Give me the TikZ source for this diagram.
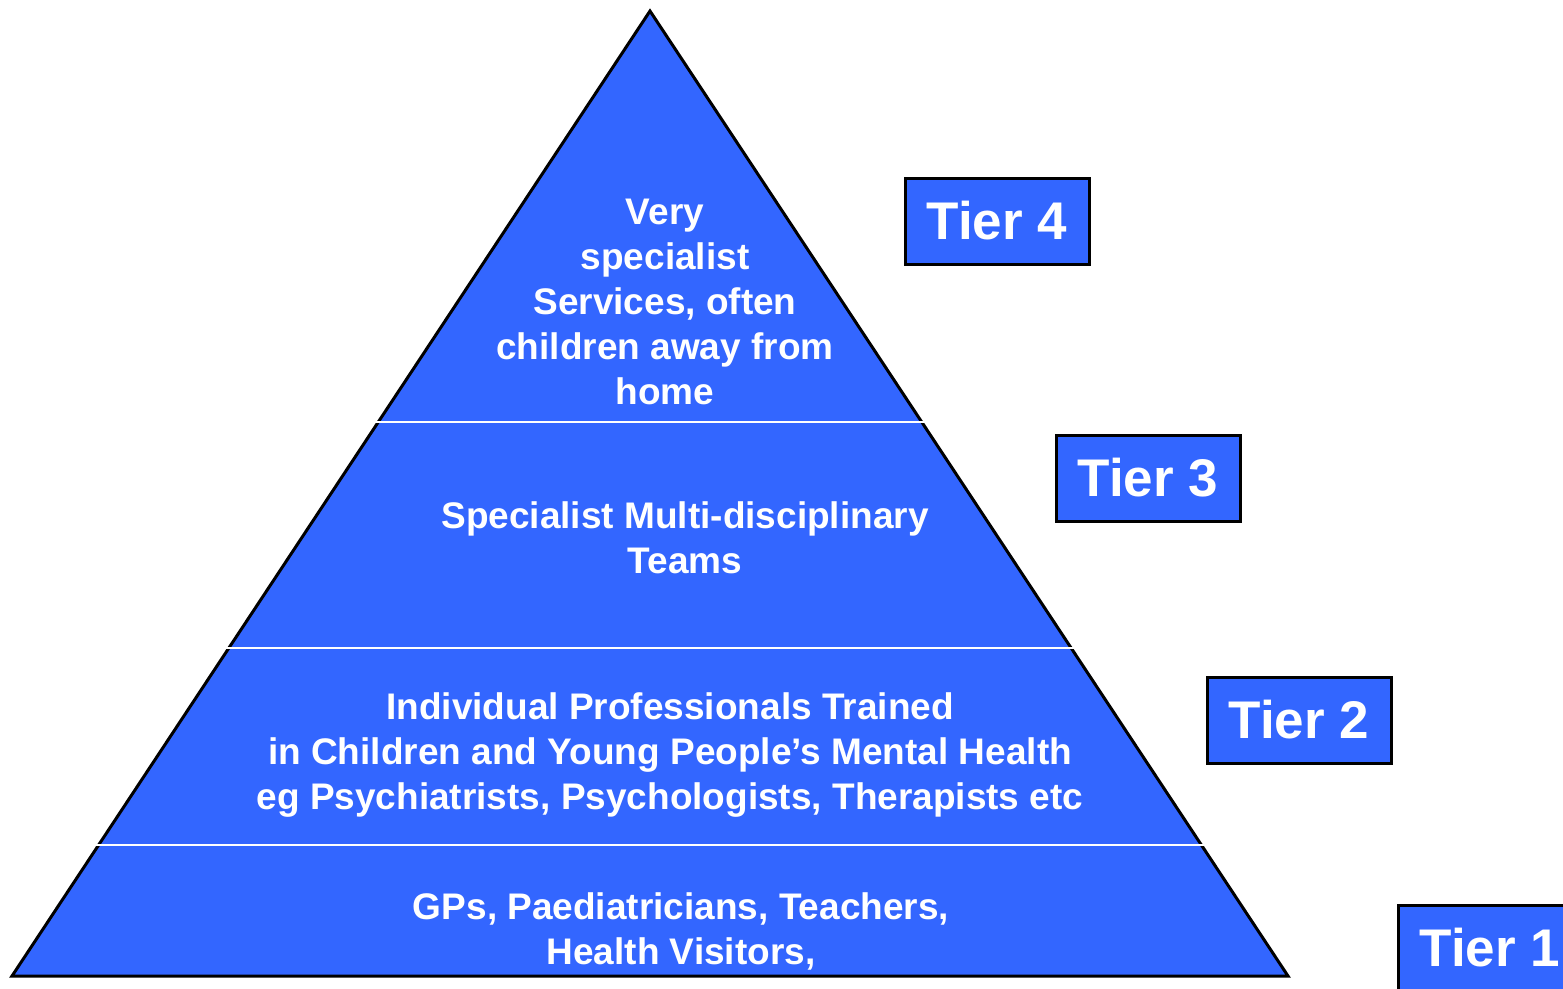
\documentclass[tikz,border=0pt]{standalone}
\usepackage{fontspec}
\setmainfont{Liberation Sans}
\definecolor{tierblue}{RGB}{51,102,255}
\tikzset{
  band text/.style={text=white, font=\fontsize{37}{45}\selectfont\bfseries, align=center, inner sep=0pt},
  tier box/.style={draw=black, line width=3pt, fill=tierblue, text=white,
    font=\fontsize{53}{60}\selectfont\bfseries, minimum width=184pt, minimum height=86pt, inner sep=0pt},
  separator/.style={draw=white, line width=2.5pt}
}
\begin{document}
\begin{tikzpicture}[x=1pt,y=-1pt]
\useasboundingbox (0,0) rectangle (1563,988);
\clip (0,0) rectangle (1563,988);
\coordinate (apex) at (650,11);
\coordinate (bl) at (12,976);
\coordinate (br) at (1288,976);
\draw[line width=3pt, fill=tierblue, line join=miter] (apex) -- (br) -- (bl) -- cycle;
% separators
\coordinate (s1l) at (374,422); \coordinate (s1r) at (926,422);
\coordinate (s2l) at (225,648); \coordinate (s2r) at (1075,648);
\coordinate (s3l) at (95,845);  \coordinate (s3r) at (1205,845);
\draw[separator] (s1l) -- (s1r);
\draw[separator] (s2l) -- (s2r);
\draw[separator] (s3l) -- (s3r);
% band texts
\node[band text] (t4) at (665,302) {Very\\specialist\\Services, often\\children away from\\home};
\node[band text] (t3) at (685,538) {Specialist Multi-disciplinary\\Teams};
\node[band text] (t2) at (670,755) {Individual Professionals Trained\\in Children and Young People’s Mental Health\\eg Psychiatrists, Psychologists, Therapists etc};
\node[band text] (t1) at (681,931.5) {GPs, Paediatricians, Teachers,\\Health Visitors,};
% tier boxes
\node[tier box] (tier4) at (997,221) {Tier 4};
\node[tier box] (tier3) at (1148,478) {Tier 3};
\node[tier box] (tier2) at (1299,720) {Tier 2};
\node[tier box] (tier1) at (1490,948) {Tier 1};
\end{tikzpicture}
\end{document}
